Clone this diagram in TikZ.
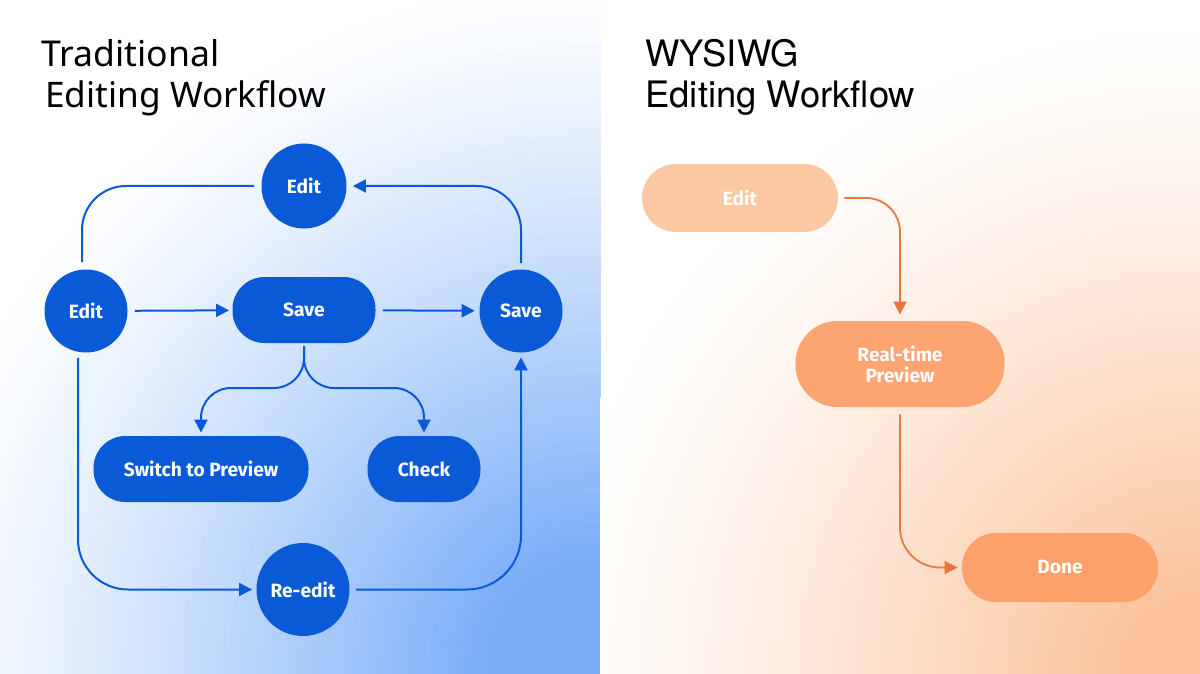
\documentclass[tikz,border=0pt]{standalone}
\usepackage{fontspec}
\setmainfont{Noto Sans}
\newfontfamily\titlefont{Noto Sans}
\newfontfamily\titlefontB{TeX Gyre Heros}
\newfontfamily\nodefont{Fira Sans}
\usetikzlibrary{arrows.meta}
\definecolor{nodeblue}{HTML}{0A5AD8}
\definecolor{bgblue}{HTML}{78ADF8}
\definecolor{bgorange}{HTML}{FBC198}
\definecolor{orEdit}{HTML}{FCC9A2}
\definecolor{orMid}{HTML}{FCA472}
\definecolor{orDone}{HTML}{FCA16C}
\definecolor{orLine}{HTML}{E9773C}
\tikzset{
  circnode/.style={circle, fill=nodeblue, text=white, inner sep=0pt, font=\nodefont\bfseries\fontsize{9.6}{11}\selectfont},
  pillnode/.style={rectangle, rounded corners=16pt, fill=nodeblue, text=white, inner sep=0pt, minimum height=33pt, font=\nodefont\bfseries\fontsize{9.6}{11}\selectfont},
  opill/.style={rectangle, rounded corners=17pt, text=white, inner sep=0pt, align=center, font=\nodefont\bfseries\fontsize{9.6}{11.5}\selectfont},
  bline/.style={draw=nodeblue, line width=1pt},
  barr/.style={bline, -{Triangle[length=6.5pt,width=6.5pt]}},
  oline/.style={draw=orLine, line width=0.9pt},
  oarr/.style={oline, -{Triangle[length=6.5pt,width=6.5pt]}},
  ttl/.style={anchor=base west, inner sep=0pt, text=black}
}
\begin{document}
\begin{tikzpicture}[x=0.5pt,y=-0.5pt]
\useasboundingbox (0,0) rectangle (1200,674);
\fill[white] (0,0) rectangle (1200,674);
\begin{scope}
  \clip (0,0) rectangle (600,674);
  \foreach \k in {0,...,87} {
    \pgfmathsetmacro\rr{700-8*\k}
    \pgfmathsetmacro\pp{min(100,125*(1-\rr/700)^1.25)}
    \fill[bgblue!\pp!white] (600,674) circle (\rr);
  }
\end{scope}
\begin{scope}
  \clip (600,0) rectangle (1200,674);
  \foreach \k in {0,...,82} {
    \pgfmathsetmacro\rr{660-8*\k}
    \pgfmathsetmacro\pp{min(100,115*(1-\rr/660)^1.3)}
    \fill[bgorange!\pp!white] (1200,674) circle (\rr);
  }
\end{scope}

% titles
\node[ttl, font=\titlefont\fontsize{17.8}{20}\selectfont] (t1) at (41,67) {Traditional};
\node[ttl, font=\titlefont\fontsize{17.6}{20}\selectfont] (t2) at (45,108) {Editing Workflow};
\node[ttl, font=\titlefontB\fontsize{18.2}{20}\selectfont] (t3) at (645,67) {WYSIWG};
\node[ttl, font=\titlefontB\fontsize{18.2}{20}\selectfont] (t4) at (645,108) {Editing Workflow};

% left nodes
\node[circnode, minimum size=42.5pt] (e1) at (304,186) {Edit};
\node[circnode, minimum size=41.5pt] (e0) at (86,311) {Edit};
\node[pillnode, minimum width=71.5pt] (s1) at (304,310) {Save};
\node[circnode, minimum size=41.5pt] (s2) at (521,311) {Save};
\node[pillnode, minimum width=107.5pt] (sw) at (201,469) {Switch to Preview};
\node[pillnode, minimum width=56.5pt] (ck) at (424,469) {Check};
\node[circnode, minimum size=46.5pt] (re) at (303,589.5) {Re-edit};
\coordinate (br) at (304,388);

% left connectors
\draw[barr, shorten <=3.5pt, shorten >=1.5pt] (e0) -- (s1);
\draw[barr, shorten <=3.5pt, shorten >=2.2pt] (s1) -- (s2);
\draw[bline, rounded corners=22pt] ([xshift=-2pt,yshift=3.5pt]e0.north) |- ([xshift=-3.5pt]e1.west);
\draw[barr, rounded corners=22pt] ([yshift=3pt]s2.north) |- ([xshift=3pt]e1.east);
\draw[barr, rounded corners=15pt] ([yshift=-1.5pt]s1.south) -- (br) -| ([yshift=1.5pt]sw.north);
\draw[barr, rounded corners=15pt] ([yshift=-1.5pt]s1.south) -- (br) -| ([yshift=1.5pt]ck.north);
\draw[barr, rounded corners=25pt] ([xshift=-4pt,yshift=-2.5pt]e0.south) |- ([xshift=-2pt]re.west);
\draw[barr, rounded corners=27pt] ([xshift=3pt]re.east) -| ([yshift=-2.2pt]s2.south);

% right nodes
\node[opill, fill=orEdit, minimum width=98pt, minimum height=34pt] (ed) at (740,198) {Edit};
\node[opill, fill=orMid, minimum width=104.5pt, minimum height=43pt, rounded corners=21pt] (rt) at (900,364) {Real-time\\[-1pt]Preview};
\node[opill, fill=orDone, minimum width=98pt, minimum height=34.5pt] (dn) at (1060,567.5) {Done};

% right connectors
\draw[oarr, rounded corners=17pt] ([xshift=3pt]ed.east) -| ([yshift=3pt]rt.north);
\draw[oarr, rounded corners=20pt] ([yshift=-3.5pt]rt.south) |- ([xshift=-2pt]dn.west);
\end{tikzpicture}
\end{document}
